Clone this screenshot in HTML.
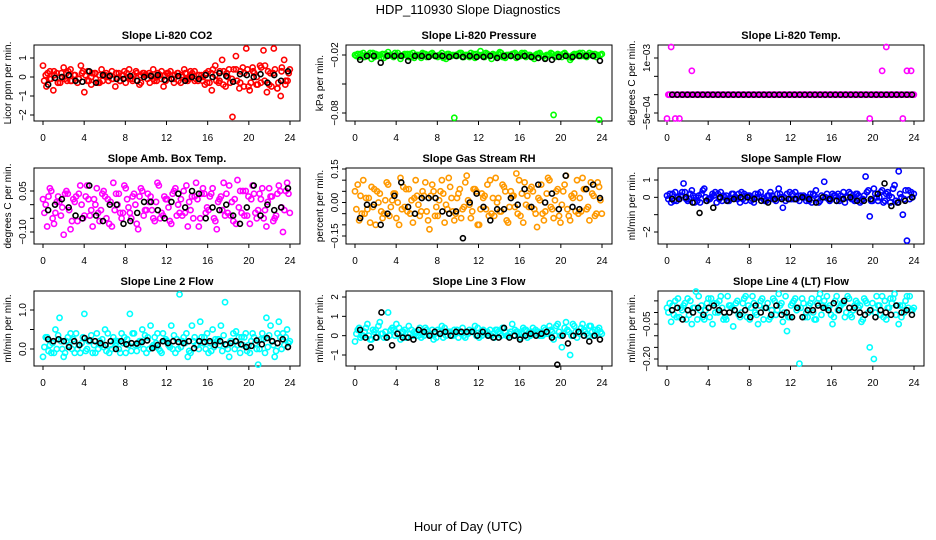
<!DOCTYPE html>
<html><head><meta charset="utf-8"><style>
body{margin:0;background:#fff;}
svg{display:block;font-family:"Liberation Sans",sans-serif;}
</style></head><body>
<svg id="chart" width="936" height="540" viewBox="0 0 936 540" xmlns="http://www.w3.org/2000/svg">
<rect width="936" height="540" fill="#fff"/>
<text x="468" y="14" font-size="13" text-anchor="middle">HDP_110930  Slope Diagnostics</text>
<text x="468" y="531" font-size="13" text-anchor="middle">Hour of Day (UTC)</text>
</svg>
<script>
const xTicks=[0,4,8,12,16,20,24];
const titles=["Slope Li-820 CO2","Slope Li-820 Pressure","Slope Li-820 Temp.","Slope Amb. Box Temp.","Slope Gas Stream RH","Slope Sample Flow","Slope Line 2 Flow","Slope Line 3 Flow","Slope Line 4 (LT) Flow"];
const yTitles=["Licor ppm per min.","kPa per min.","degrees C per min.","degrees C per min.","percent per min.","ml/min per min.","ml/min per min.","ml/min per min.","ml/min per min."];
const colors=["#ff0000","#00ff00","#ff00ff","#ff00ff","#ff9900","#0000ff","#00ffff","#00ffff","#00ffff"];
const co2A=[0.6,-0.5,0.3,-0.7,0.2,-0.3,0.5,-0.2,0.4,0.1,-0.3,0.6,-0.8,0.3,-0.4,0.2,-0.3,0.4,0.1,-0.2,0.3,-0.5,0.2,0.1,-0.3,0.4,-0.2,0.3,-0.4,0.2,0.1,-0.3,0.4,-0.2,0.1,-0.5,0.2,0.3,-0.1,0.2,-0.3,0.4,-0.2,0.1,0.3,-0.2,0.1,-0.4,0.3,-0.7,0.6,-0.3,0.9,-0.5,0.4,-2.1,1.1,-0.6,0.5,1.5,-0.7,0.3,-0.4,0.6,1.4,-0.8,0.2,1.5,-0.6,-1.0,0.9,-0.2];
const co2B=[-0.2,0.2,-0.1,0.1,-0.3,0.2,-0.1,0.3,-0.2,0.1,-0.1,0.2,0.1,-0.2,0.2,-0.1,0.1,-0.2,0.2,0.1,-0.1,0.2,-0.2,0.1,0.2,-0.1,0.1,-0.2,0.1,0.2,-0.1,0.1,-0.2,0.2,-0.1,0.1,0.2,-0.1,0.1,-0.2,0.1,0.2,-0.1,0.2,-0.1,0.1,-0.2,0.2,-0.3,0.4,-0.2,0.3,-0.4,0.2,-0.3,0.4,-0.2,0.3,-0.5,0.4,-0.3,0.2,-0.4,0.5,-0.2,0.3,-0.5,0.4,-0.3,0.5,-0.4,0.2];
const co2C=[0.1,-0.1,0.3,-0.3,0.0,0.2,-0.2,0.1,-0.1,0.3,-0.2,0.0,0.2,-0.3,0.1,0.0,-0.1,0.2,-0.2,0.3,0.0,-0.1,0.2,-0.3,0.1,0.2,-0.1,0.0,0.3,-0.2,0.1,-0.3,0.2,0.0,-0.1,0.3,-0.2,0.1,0.0,-0.3,0.2,0.1,-0.2,0.3,0.0,-0.1,0.4,-0.3,0.2,-0.5,0.5,0.0,-0.3,0.6,-0.4,0.2,-0.6,0.3,-0.2,0.4];
const co2K=[-0.4,-0.05,0.0,0.1,-0.2,-0.25,0.3,-0.3,0.1,0.05,-0.1,-0.1,0.05,-0.2,0.0,0.05,0.1,-0.15,-0.1,0.05,-0.2,0.0,-0.1,0.1,0.0,0.2,0.05,-0.25,0.15,0.1,0.0,0.15,-0.3,0.1,-0.2,0.3];
const presA=[-0.020,-0.022,-0.018,-0.021,-0.024,-0.019,-0.02,-0.023,-0.017,-0.021,-0.02,-0.024,-0.019,-0.022,-0.018,-0.02,-0.023,-0.019,-0.021,-0.02,-0.022,-0.018,-0.024,-0.02,-0.085,-0.019,-0.022,-0.02,-0.018,-0.023,-0.02,-0.021,-0.019,-0.024,-0.02,-0.017,-0.022,-0.02,-0.019,-0.023,-0.021,-0.018,-0.02,-0.022,-0.019,-0.021,-0.023,-0.02,-0.082,-0.019,-0.022,-0.02,-0.025,-0.019,-0.021,-0.018,-0.022,-0.02,-0.019,-0.087];
const presB=[-0.021,-0.019,-0.022,-0.02,-0.018,-0.021,-0.023,-0.019,-0.02,-0.022,-0.018,-0.021,-0.02,-0.019,-0.023,-0.02,-0.018,-0.022,-0.019,-0.021,-0.02,-0.023,-0.019,-0.021,-0.02,-0.018,-0.022,-0.02,-0.021,-0.019,-0.016,-0.022,-0.02,-0.019,-0.021,-0.018,-0.023,-0.02,-0.019,-0.021,-0.018,-0.022,-0.02,-0.024,-0.019,-0.021,-0.02,-0.018,-0.022,-0.02,-0.019,-0.021,-0.023,-0.02,-0.018,-0.021,-0.02,-0.019,-0.022,-0.02];
const presC=[-0.019,-0.021,-0.02,-0.018,-0.022,-0.02,-0.019,-0.021,-0.02,-0.018,-0.021,-0.02,-0.019,-0.022,-0.02,-0.021,-0.019,-0.02,-0.018,-0.021,-0.02,-0.022,-0.019,-0.02,-0.021,-0.018,-0.02,-0.022,-0.019,-0.021,-0.02,-0.018,-0.021,-0.02,-0.019,-0.022,-0.02,-0.021,-0.018,-0.02,-0.019,-0.021,-0.022,-0.02,-0.018,-0.021,-0.02,-0.019,-0.021,-0.02,-0.018,-0.022,-0.02,-0.019,-0.021,-0.02,-0.018,-0.021,-0.02,-0.019];
const presK=[-0.025,-0.021,-0.021,-0.028,-0.021,-0.021,-0.021,-0.026,-0.021,-0.021,-0.022,-0.021,-0.021,-0.022,-0.021,-0.022,-0.021,-0.022,-0.022,-0.021,-0.023,-0.021,-0.021,-0.022,-0.021,-0.022,-0.023,-0.024,-0.025,-0.022,-0.021,-0.022,-0.021,-0.021,-0.021,-0.026];
const tempA=[-6.5e-4,13e-4,-6.5e-4,-6.5e-4,0,0,6.5e-4,0,0,0,0,0,0,0,0,0,0,0,0,0,0,0,0,0,0,0,0,0,0,0,0,0,0,0,0,0,0,0,0,0,0,0,0,0,0,0,0,0,0,-6.5e-4,0,0,6.5e-4,13e-4,0,0,0,-6.5e-4,6.5e-4,6.5e-4];
const tempB=[0,0,0,0,0,0,0,0,0,0,0,0,0,0,0,0,0,0,0,0,0,0,0,0,0,0,0,0,0,0,0,0,0,0,0,0,0,0,0,0,0,0,0,0,0,0,0,0,0,0,0,0,0,0,0,0,0,0,0,0];
const tempC=[0,0,0,0,0,0,0,0,0,0,0,0,0,0,0,0,0,0,0,0,0,0,0,0,0,0,0,0,0,0,0,0,0,0,0,0,0,0,0,0,0,0,0,0,0,0,0,0,0,0,0,0,0,0,0,0,0,0,0,0];
const tempK=[0,0,0,0,0,0,0,0,0,0,0,0,0,0,0,0,0,0,0,0,0,0,0,0,0,0,0,0,0,0,0,0,0,0,0,0,0,0,0,0,0,0,0,0,0,0,0,0];
const ambA=[0.02,-0.08,0.05,-0.03,0.01,-0.11,0.04,-0.06,0.03,0.07,-0.04,0.02,-0.08,0.06,-0.02,0.03,-0.07,0.08,0.00,-0.05,0.06,-0.03,0.04,-0.09,0.05,-0.02,0.03,-0.06,0.07,-0.04,0.02,-0.07,0.06,-0.03,0.05,-0.08,0.03,0.08,-0.05,0.04,-0.02,0.06,-0.09,0.03,-0.04,0.07,-0.06,0.09,-0.03,0.05,-0.07,0.04,-0.02,0.06,-0.08,0.03,-0.05,0.07,-0.10,0.08];
const ambB=[-0.03,0.03,-0.05,0.01,-0.04,0.04,-0.02,0.02,-0.06,0.00,0.03,-0.04,0.02,-0.03,0.04,-0.05,0.01,-0.02,0.04,-0.03,0.02,-0.05,0.00,0.03,-0.04,0.04,-0.02,0.01,-0.05,0.03,-0.01,0.04,-0.04,0.02,-0.03,0.01,-0.05,0.02,0.04,-0.03,0.03,-0.05,0.01,-0.02,0.04,-0.04,0.02,-0.01,0.05,-0.04,0.02,-0.03,0.04,-0.05,0.01,0.03,-0.04,0.05,-0.02,0.04];
const ambC=[0.00,0.06,-0.07,0.03,-0.01,0.05,-0.09,0.01,0.04,-0.05,0.07,-0.02,0.00,-0.06,0.05,0.02,-0.08,0.04,-0.03,0.07,-0.01,0.03,-0.07,0.06,-0.02,0.01,-0.05,0.08,-0.03,0.02,-0.06,0.05,0.00,-0.04,0.07,-0.02,0.03,-0.08,0.06,-0.01,0.04,-0.06,0.02,0.08,-0.03,0.01,-0.07,0.05,-0.04,0.03,0.07,-0.05,0.02,-0.02,0.06,-0.06,0.04,-0.01,0.05,-0.03];
const ambK=[-0.02,0.00,0.02,-0.01,-0.04,-0.05,0.07,-0.04,-0.06,0.00,0.00,-0.07,-0.06,-0.03,0.01,0.01,-0.02,-0.05,0.01,0.04,-0.01,0.05,0.04,-0.05,-0.01,-0.02,0.00,-0.04,-0.07,-0.01,0.07,-0.04,0.00,-0.02,-0.01,0.06];
const rhA=[0.05,-0.08,0.10,-0.03,0.07,-0.10,0.04,-0.05,0.08,0.01,-0.07,0.11,-0.02,0.06,-0.09,0.03,-0.04,0.09,-0.12,0.05,-0.06,0.10,-0.01,0.07,-0.08,0.04,-0.03,0.12,-0.07,0.06,-0.10,0.02,0.08,-0.05,0.11,-0.04,0.07,-0.09,0.03,0.13,-0.06,0.09,-0.02,0.05,-0.11,0.08,-0.04,0.10,-0.07,0.06,-0.01,0.12,-0.08,0.04,-0.05,0.11,-0.03,0.09,-0.06,0.07];
const rhB=[-0.03,0.03,-0.05,0.02,-0.02,0.05,-0.04,0.01,-0.06,0.04,0.00,-0.03,0.06,-0.05,0.02,-0.01,0.05,-0.04,0.03,-0.06,0.01,0.04,-0.03,0.02,-0.05,0.06,-0.02,0.01,-0.04,0.05,-0.03,0.03,-0.06,0.02,0.00,-0.04,0.05,-0.02,0.03,-0.05,0.04,-0.01,0.06,-0.03,0.02,-0.05,0.04,-0.02,0.01,-0.06,0.05,-0.03,0.03,-0.04,0.02,0.06,-0.02,0.04,-0.05,0.01];
const rhC=[0.08,-0.05,0.02,-0.09,0.06,0.00,-0.07,0.09,-0.02,0.04,-0.10,0.07,-0.04,0.01,0.10,-0.06,0.03,-0.08,0.08,-0.02,0.05,-0.09,0.11,-0.04,0.02,-0.07,0.09,-0.01,0.06,-0.10,0.04,-0.03,0.10,-0.06,0.02,0.08,-0.08,0.05,-0.02,0.10,-0.09,0.03,0.07,-0.05,0.01,-0.08,0.11,-0.03,0.05,-0.09,0.08,-0.06,0.02,0.10,-0.04,0.06,-0.08,0.03,0.09,-0.05];
const rhK=[-0.07,-0.01,-0.01,-0.10,-0.05,0.03,0.09,-0.02,-0.05,0.02,0.02,0.02,-0.04,-0.05,-0.04,-0.16,0.00,0.04,-0.02,-0.08,-0.03,-0.03,0.02,-0.01,0.06,-0.02,0.08,0.00,0.04,-0.03,0.12,-0.02,-0.03,0.06,0.08,0.02];
const sfA=[0.1,-0.3,0.3,-0.1,0.8,-0.2,0.4,0.0,-0.3,0.5,-0.1,0.2,-0.3,0.3,0.0,-0.2,0.2,-0.1,0.3,-0.2,0.1,-0.3,0.2,0.0,-0.2,0.3,-0.1,0.5,-0.6,0.2,-0.1,0.3,-0.2,0.1,0.0,-0.3,0.4,-0.2,0.9,-0.1,0.2,-0.2,0.1,-0.3,0.3,-0.1,0.2,-0.2,1.2,-1.1,0.5,-0.2,0.4,0.2,-0.3,0.7,1.5,-1.0,-2.5,0.3];
const sfB=[-0.1,0.2,-0.2,0.1,0.3,-0.1,0.1,-0.2,0.2,0.0,-0.1,0.1,0.2,-0.2,0.1,-0.1,0.0,0.2,-0.1,0.1,-0.2,0.2,0.0,-0.1,0.1,0.1,-0.2,0.2,0.0,-0.1,0.2,-0.1,0.1,0.0,-0.2,0.2,-0.1,0.1,0.0,-0.2,0.1,0.2,-0.1,0.0,0.2,-0.2,0.1,-0.1,0.3,-0.2,0.2,0.0,-0.3,0.3,0.0,-0.2,0.2,-0.1,0.4,0.0];
const sfC=[0.2,-0.2,0.0,0.3,-0.1,0.2,-0.3,0.1,0.4,-0.2,0.0,0.3,-0.1,0.1,-0.2,0.2,0.0,-0.3,0.2,0.1,-0.1,0.0,0.3,-0.2,0.1,-0.1,0.2,0.0,-0.2,0.3,-0.1,0.1,0.0,-0.2,0.2,0.1,-0.3,0.0,0.2,-0.1,0.1,-0.2,0.3,0.0,-0.1,0.2,-0.3,0.1,0.4,-0.2,0.0,0.3,-0.2,0.1,0.5,-0.3,0.0,0.4,-0.1,0.2];
const sfK=[-0.1,-0.1,0.0,-0.3,-0.9,-0.2,-0.6,0.0,-0.2,-0.1,0.0,0.0,-0.1,-0.2,-0.3,-0.1,-0.1,-0.1,-0.1,0.0,-0.1,-0.3,0.0,-0.1,-0.2,-0.1,0.0,-0.2,-0.2,-0.1,0.2,0.8,-0.5,-0.3,-0.2,0.0];
const l2A=[-0.2,0.3,-0.1,0.5,0.8,-0.2,0.3,0.0,0.4,-0.1,0.9,0.2,-0.1,0.4,0.1,0.5,-0.1,0.3,0.2,0.4,-0.1,0.9,0.4,0.1,0.5,-0.1,0.6,0.3,0.0,0.4,0.2,0.6,-0.1,1.4,0.3,-0.2,0.6,0.1,0.7,0.3,-0.1,0.5,0.2,0.6,1.2,-0.2,0.4,0.1,0.3,0.4,-0.1,0.3,-0.4,0.4,0.8,0.6,-0.2,0.7,0.4,0.5];
const l2B=[0.05,-0.05,0.15,0.0,0.2,-0.1,0.1,0.25,0.0,0.15,-0.05,0.2,0.1,0.0,0.25,-0.05,0.1,0.2,0.0,0.15,0.25,-0.05,0.1,0.2,0.0,0.3,0.05,0.15,-0.05,0.2,0.1,0.0,0.25,0.05,0.15,-0.05,0.2,0.1,0.3,0.0,0.15,0.05,0.25,-0.05,0.1,0.2,0.0,0.3,0.1,-0.05,0.2,0.15,0.0,0.25,0.05,0.2,-0.05,0.3,0.1,0.15];
const l2C=[0.3,0.1,-0.1,0.35,0.0,0.2,0.4,-0.1,0.1,0.3,0.0,0.35,-0.1,0.2,0.05,0.4,0.0,0.15,-0.1,0.3,0.1,0.4,-0.05,0.2,0.35,0.0,0.1,0.4,-0.1,0.25,0.05,0.35,0.0,0.2,0.4,-0.1,0.3,0.0,0.15,0.4,-0.05,0.25,0.1,0.35,0.0,0.2,0.45,-0.1,0.3,0.1,0.4,0.0,0.25,-0.1,0.35,0.1,0.4,0.0,0.3,0.2];
const l2K=[0.25,0.2,0.25,0.2,0.05,0.2,0.1,0.28,0.22,0.2,0.15,0.1,0.2,0.0,0.2,0.12,0.15,0.14,0.18,0.22,0.02,0.1,0.2,0.15,0.2,0.18,0.15,0.2,0.02,0.2,0.18,0.2,0.1,0.2,0.12,0.15,0.2,0.12,0.05,0.08,0.22,0.12,0.28,0.2,0.15,0.25,0.05];
const l3A=[-0.3,0.4,0.0,0.6,-0.2,0.3,0.7,-0.1,1.2,0.4,0.6,-0.2,0.3,0.5,0.0,0.2,-0.1,0.4,0.1,-0.2,0.3,0.5,0.0,0.2,0.3,-0.1,0.4,0.1,0.2,0.5,-0.1,0.3,0.2,0.0,0.3,0.1,0.4,0.0,0.6,0.2,-0.1,0.3,0.1,0.4,0.2,0.0,0.3,0.5,-0.2,0.6,-0.6,0.7,-1.0,0.5,0.2,0.6,0.1,0.5,0.3,0.4];
const l3B=[0.1,-0.1,0.2,0.0,0.3,-0.1,0.1,0.2,0.0,0.3,0.1,0.2,-0.1,0.1,0.2,0.0,0.1,0.3,0.0,0.1,0.2,-0.1,0.2,0.0,0.1,0.2,0.0,0.1,0.2,0.0,0.1,0.2,0.0,0.1,0.3,0.0,0.2,0.1,0.0,0.2,0.1,0.3,0.0,0.1,0.2,0.0,0.1,0.3,0.0,0.2,0.1,0.3,0.0,0.2,0.1,0.3,0.0,0.2,0.1,0.2];
const l3C=[0.3,0.0,0.4,-0.2,0.2,0.5,0.1,-0.1,0.3,0.0,0.4,0.2,-0.1,0.3,0.1,0.4,0.0,0.2,0.3,-0.1,0.1,0.4,0.2,0.0,0.3,0.1,-0.1,0.3,0.2,0.4,0.0,0.1,0.3,-0.1,0.2,0.4,0.0,0.2,0.3,0.1,0.4,-0.1,0.2,0.3,0.0,0.4,0.1,0.2,0.5,0.0,0.4,0.2,0.6,-0.1,0.4,0.2,0.5,0.0,0.3,0.1];
const l3K=[0.3,-0.1,-0.6,-0.1,1.2,-0.1,-0.5,0.1,-0.1,-0.1,-0.2,0.3,0.2,0.0,0.2,0.1,0.2,0.0,0.2,0.2,0.2,0.2,0.0,0.2,0.0,-0.1,-0.1,0.4,-0.1,0.0,-0.2,0.0,0.1,0.0,0.1,0.2,-0.1,-1.5,0.0,-0.4,0.0,0.2,0.0,-0.3,0.0,-0.2];
const l4A=[0.02,-0.04,0.05,-0.02,0.03,0.06,-0.05,0.09,0.01,-0.03,0.06,-0.05,0.04,0.07,-0.02,0.03,-0.06,0.05,0.00,0.07,-0.03,0.04,-0.05,0.06,0.02,-0.02,0.05,0.08,-0.04,-0.08,0.03,0.06,-0.22,0.04,-0.02,0.06,-0.03,0.08,0.05,0.02,-0.05,0.07,0.03,-0.02,0.06,0.01,0.04,-0.04,0.05,-0.15,-0.20,0.03,0.07,-0.03,0.06,0.08,-0.05,0.03,0.07,0.01];
const l4B=[0.00,0.03,-0.02,0.02,0.04,-0.01,0.02,-0.03,0.03,0.01,-0.02,0.04,0.00,0.02,-0.03,0.03,0.01,-0.01,0.04,-0.02,0.02,0.00,0.03,-0.03,0.04,0.01,-0.01,0.03,0.00,-0.02,0.04,0.01,0.02,-0.02,0.03,0.00,0.04,-0.01,0.02,0.03,-0.02,0.01,0.04,0.00,-0.01,0.03,0.02,-0.03,0.04,0.01,0.00,0.03,-0.02,0.02,0.04,-0.01,0.03,0.00,0.02,0.01];
const l4C=[0.04,-0.01,0.06,0.01,-0.03,0.05,0.02,0.07,-0.02,0.04,0.06,0.00,0.05,-0.03,0.07,0.02,0.04,-0.02,0.06,0.03,0.07,-0.01,0.05,0.02,-0.03,0.06,0.01,0.04,0.07,-0.02,0.05,0.02,0.06,0.00,0.04,-0.03,0.06,0.03,0.07,-0.01,0.05,0.02,0.04,0.07,-0.02,0.05,0.03,0.06,0.00,0.04,0.07,-0.01,0.05,0.02,0.06,0.03,-0.02,0.05,0.07,0.02];
const l4K=[0.01,0.02,-0.03,0.01,0.00,0.02,-0.01,0.02,0.03,0.01,0.00,0.00,0.01,-0.01,0.01,-0.02,0.03,0.00,0.02,-0.01,0.03,-0.01,0.00,-0.02,0.02,-0.02,0.01,0.01,0.03,0.02,0.01,0.04,0.01,0.05,0.02,0.02,0.00,-0.01,0.01,-0.02,0.01,0.00,-0.01,0.03,0.00,0.01,-0.01];
const seriesA=[co2A,presA,tempA,ambA,rhA,sfA,l2A,l3A,l4A];
const seriesB=[co2B,presB,tempB,ambB,rhB,sfB,l2B,l3B,l4B];
const seriesC=[co2C,presC,tempC,ambC,rhC,sfC,l2C,l3C,l4C];
const seriesK=[co2K,presK,tempK,ambK,rhK,sfK,l2K,l3K,l4K];
const yTickVals=[[1,0,-1,-2],[-0.02,-0.05,-0.08],[1e-3,5e-4,0,-5e-4],[0.05,0,-0.05,-0.10],[0.15,0.10,0.05,0,-0.05,-0.10,-0.15],[1,0,-1,-2],[1.0,0.5,0.0],[2,1,0,-1],[0.05,0,-0.05,-0.10,-0.15,-0.20]];
const yTickLabels=[["1","0","\u22121","\u22122"],["\u22120.02","","\u22120.08"],["1e\u221203","","","\u22125e\u221204"],["0.05","","","\u22120.10"],["0.15","","","0.00","","","\u22120.15"],["1","0","","\u22122"],["1.0","","0.0"],["2","1","0","\u22121"],["","","\u22120.05","","","\u22120.20"]];
const yCal=[[1,58,-2,115],[-0.02,55,-0.08,113],[1e-3,58,-5e-4,113],[0.05,191,-0.10,232],[0.15,169,-0.15,236],[1,180,-2,232],[1.0,310,0.0,349],[2,297,-1,355],[0,312.5,-0.20,359]];
const cols=[{l:34,r:300,x0:43,x1:290},{l:346,r:612,x0:355,x1:602},{l:658,r:924,x0:667,x1:914}];
const rows=[{t:45,b:121},{t:168,b:244},{t:291,b:366}];
const svg=document.getElementById('chart');
const NS='http://www.w3.org/2000/svg';
function mk(tag,attrs,parent){const e=document.createElementNS(NS,tag);for(const k in attrs)e.setAttribute(k,attrs[k]);(parent||svg).appendChild(e);return e;}
for(let p=0;p<9;p++){
  const c=cols[p%3],r=rows[Math.floor(p/3)];
  const g=mk('g',{});
  
  
  const xs=h=>c.x0+(c.x1-c.x0)*h/24;
  const cal=yCal[p];
  const ys=v=>cal[1]+(v-cal[0])*(cal[3]-cal[1])/(cal[2]-cal[0]);
  const t=mk('text',{x:(c.l+c.r)/2,y:r.t-6,'font-size':11,'font-weight':'bold','text-anchor':'middle'},g);t.textContent=titles[p];
  
  
  const box=mk('rect',{x:c.l,y:r.t,width:c.r-c.l,height:r.b-r.t,fill:'none',stroke:'#000','stroke-width':1},g);
  
  
  xTicks.forEach(h=>{
    mk('line',{x1:xs(h),x2:xs(h),y1:r.b,y2:r.b+4,stroke:'#000'},g);
    const tl=mk('text',{x:xs(h),y:r.b+20,'font-size':10,'text-anchor':'middle'},g);tl.textContent=h;
    
    
  });
  const yv=yTickVals[p];
  yv.forEach((v,i)=>{
    const y=ys(v);
    mk('line',{x1:c.l-4,x2:c.l,y1:y,y2:y,stroke:'#000'},g);
    if(yTickLabels[p][i]){
      const tl=mk('text',{x:c.l-8,y:y,'font-size':10,'text-anchor':'middle',transform:`rotate(-90 ${c.l-8} ${y})`},g);tl.textContent=yTickLabels[p][i];
      
      
    }
  });
  const yt=mk('text',{x:c.l-23,y:(r.t+r.b)/2,'font-size':10,'text-anchor':'middle',transform:`rotate(-90 ${c.l-23} ${(r.t+r.b)/2})`},g);yt.textContent=yTitles[p];
  
  
  [seriesA[p],seriesB[p],seriesC[p]].forEach((arr,si)=>{
    arr.forEach((v,i)=>{
      const pt=mk('circle',{cx:xs(24*(i+si*0.33)/(arr.length-1+0.7)),cy:ys(v),r:2.6,fill:'none',stroke:colors[p],'stroke-width':1.6},g);
      
      
    });
  });
  const k=seriesK[p];
  k.forEach((v,i)=>{
    const pt=mk('circle',{cx:xs(0.5+23.3*i/(k.length-1)),cy:ys(v),r:2.5,fill:'none',stroke:'#000','stroke-width':1.6},g);
    
    
  });
}
</script>
</body></html>
